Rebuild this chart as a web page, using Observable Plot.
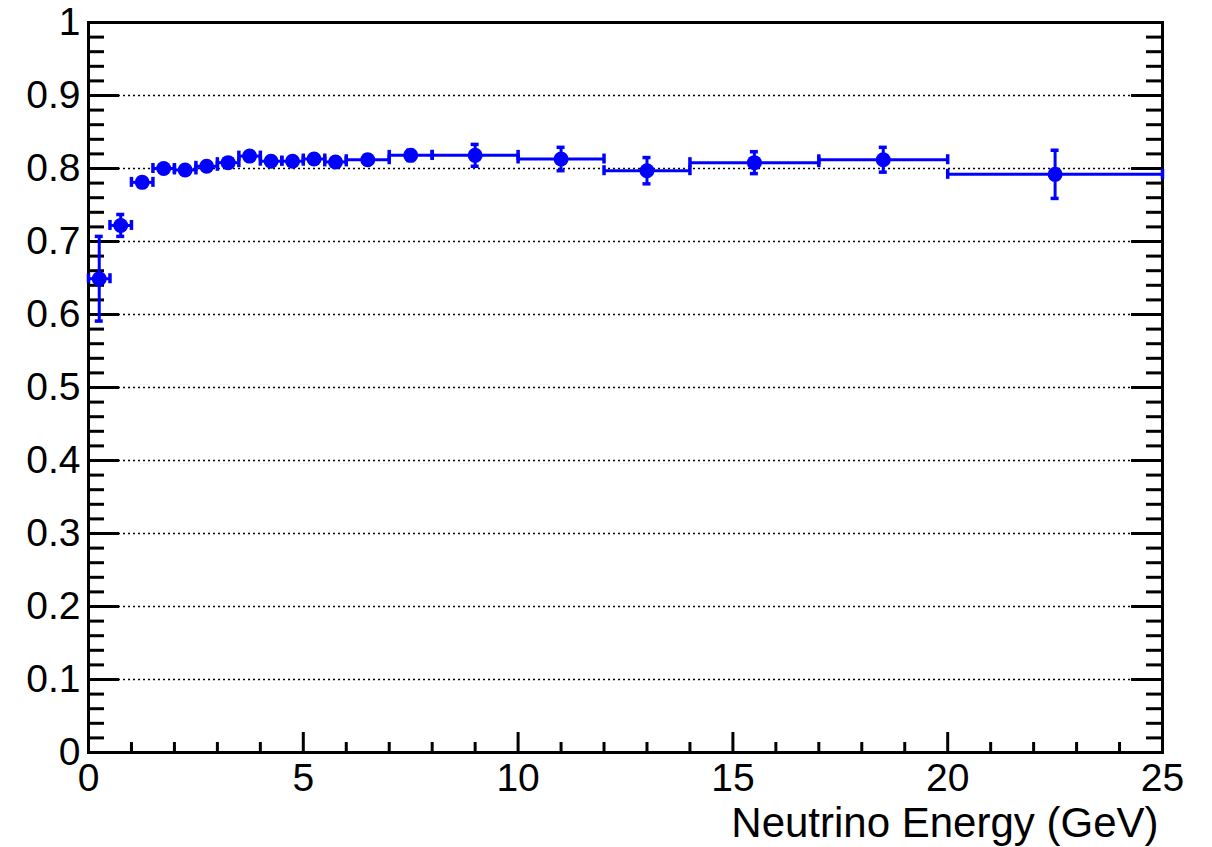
<!DOCTYPE html>
<html>
<head>
<meta charset="utf-8">
<script src="https://cdn.jsdelivr.net/npm/d3@7"></script>
<script src="https://cdn.jsdelivr.net/npm/@observablehq/plot@0.6"></script>
<style>
  html, body { margin: 0; padding: 0; background: white; }
  #chart svg { display: block; }
</style>
</head>
<body>
<div id="chart"></div>
<script>
// ---- data ----
const binLow  = [0, 0.5, 1, 1.5, 2, 2.5, 3, 3.5, 4, 4.5, 5, 5.5, 6, 7, 8, 10, 12, 14, 17, 20];
const binHigh = [0.5, 1, 1.5, 2, 2.5, 3, 3.5, 4, 4.5, 5, 5.5, 6, 7, 8, 10, 12, 14, 17, 20, 25];
const efficiency = [0.649, 0.722, 0.781, 0.800, 0.798, 0.803, 0.808, 0.817, 0.810, 0.810, 0.813, 0.809,
                    0.812, 0.818, 0.818, 0.813, 0.797, 0.808, 0.812, 0.792];
const effError   = [0.058, 0.015, 0.006, 0.005, 0.005, 0.005, 0.005, 0.005, 0.005, 0.005, 0.005, 0.005,
                    0.006, 0.007, 0.015, 0.016, 0.018, 0.015, 0.017, 0.033];

// ---- axes ----
const xMajorTicks = [0, 5, 10, 15, 20, 25];
const xTickLabels = ["0", "5", "10", "15", "20", "25"];
const xMinorTicks = [1, 2, 3, 4, 6, 7, 8, 9, 11, 12, 13, 14, 16, 17, 18, 19, 21, 22, 23, 24];
const yMajorTicks = [0, 0.1, 0.2, 0.3, 0.4, 0.5, 0.6, 0.7, 0.8, 0.9, 1];
const yTickLabels = ["0", "0.1", "0.2", "0.3", "0.4", "0.5", "0.6", "0.7", "0.8", "0.9", "1"];
const yGridLines  = [0.1, 0.2, 0.3, 0.4, 0.5, 0.6, 0.7, 0.8, 0.9];
const xTitle = "Neutrino Energy (GeV)";

const yMinorTicks = d3.range(0, 51).map(i => i / 50).filter(v => Math.round(v * 50) % 5 !== 0);

const blue = "#0000ff";
const data = binLow.map((lo, i) => ({
  lo, hi: binHigh[i], c: (lo + binHigh[i]) / 2, v: efficiency[i], e: effError[i]
}));
const hCaps = data.flatMap(d => [{x: d.lo, y: d.v}, {x: d.hi, y: d.v}]);
const vCaps = data.flatMap(d => [{x: d.c, y: d.v - d.e}, {x: d.c, y: d.v + d.e}]);

const xLabelMap = new Map(xMajorTicks.map((t, i) => [t, xTickLabels[i]]));
const yLabelMap = new Map(yMajorTicks.map((t, i) => [t, yTickLabels[i]]));

const chart = Plot.plot({
  width: 1212,
  height: 847,
  marginLeft: 88,
  marginRight: 50,
  marginTop: 22,
  marginBottom: 95,
  x: {domain: [0, 25]},
  y: {domain: [0, 1]},
  style: {fontFamily: "'Liberation Sans', Arial, Helvetica, sans-serif", background: "white", color: "black"},
  marks: [
    // grid
    Plot.ruleY(yGridLines, {y: d => d, x1: 0, x2: 25, stroke: "black", strokeWidth: 1.5, strokeDasharray: "2,3"}),
    // y ticks left (inward)
    Plot.ruleY(yMajorTicks, {y: d => d, x1: 0, x2: 0, insetRight: -31, stroke: "black", strokeWidth: 3}),
    Plot.ruleY(yMinorTicks, {y: d => d, x1: 0, x2: 0, insetRight: -16, stroke: "black", strokeWidth: 3}),
    // y ticks right (inward)
    Plot.ruleY(yMajorTicks, {y: d => d, x1: 25, x2: 25, insetLeft: -31, stroke: "black", strokeWidth: 3}),
    Plot.ruleY(yMinorTicks, {y: d => d, x1: 25, x2: 25, insetLeft: -16, stroke: "black", strokeWidth: 3}),
    // x ticks bottom (upward)
    Plot.ruleX(xMajorTicks, {x: d => d, y1: 0, y2: 0, insetTop: -20, stroke: "black", strokeWidth: 3}),
    Plot.ruleX(xMinorTicks, {x: d => d, y1: 0, y2: 0, insetTop: -10, stroke: "black", strokeWidth: 3}),
    // frame
    Plot.frame({stroke: "black", strokeWidth: 3}),
    // error bars
    Plot.ruleY(data, {y: "v", x1: "lo", x2: "hi", stroke: blue, strokeWidth: 3}),
    Plot.ruleX(hCaps, {x: "x", y1: "y", y2: "y", insetTop: -5, insetBottom: -5, stroke: blue, strokeWidth: 3.5}),
    Plot.ruleX(data, {x: "c", y1: d => d.v - d.e, y2: d => d.v + d.e, stroke: blue, strokeWidth: 3}),
    Plot.ruleY(vCaps, {y: "y", x1: "x", x2: "x", insetLeft: -4, insetRight: -4, stroke: blue, strokeWidth: 3.5}),
    Plot.dot(data, {x: "c", y: "v", r: 7.5, fill: blue, stroke: "none"}),
    // axis labels
    Plot.axisY(yMajorTicks, {anchor: "left", tickSize: 0, tickPadding: 8, fontSize: 39, label: null,
      tickFormat: d => yLabelMap.get(d)}),
    Plot.axisX(xMajorTicks, {anchor: "bottom", tickSize: 0, tickPadding: 11, fontSize: 39, label: null,
      tickFormat: d => xLabelMap.get(d)}),
    Plot.text([xTitle], {frameAnchor: "bottom-right", textAnchor: "end", lineAnchor: "bottom",
      dy: 84, dx: -4, fontSize: 42, fill: "black"})
  ]
});
document.getElementById("chart").appendChild(chart);
</script>
</body>
</html>
